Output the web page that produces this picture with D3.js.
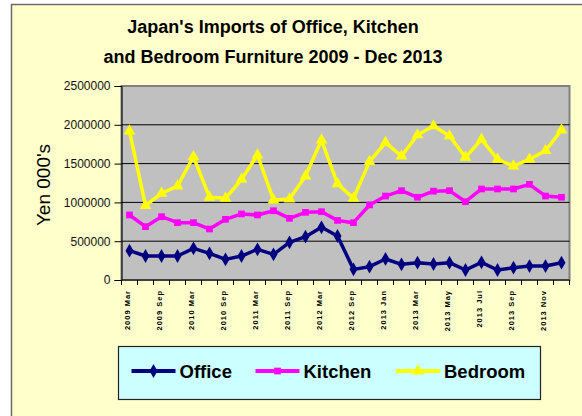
<!DOCTYPE html>
<html>
<head>
<meta charset="utf-8">
<script src="https://cdn.jsdelivr.net/npm/d3@7"></script>
<style>
	body { margin: 0; background: #fff; }
	svg { display: block; font-family: Arial, "Liberation Sans", sans-serif; }
</style>
</head>
<body>
<svg width="582" height="416"></svg>
<script>
// quarterly to end of 2012, then monthly for 2013
const categories = [
	'2009 Mar', '2009 Jun', '2009 Sep', '2009 Dec',
	'2010 Mar', '2010 Jun', '2010 Sep', '2010 Dec',
	'2011 Mar', '2011 Jun', '2011 Sep', '2011 Dec',
	'2012 Mar', '2012 Jun', '2012 Sep', '2012 Dec',
	'2013 Jan', '2013 Feb', '2013 Mar', '2013 Apr', '2013 May', '2013 Jun',
	'2013 Jul', '2013 Aug', '2013 Sep', '2013 Oct', '2013 Nov', '2013 Dec'
];
const office = [
	378000, 309000, 309000, 309000, 408000, 344000, 266000, 309000,
	395000, 331000, 485000, 558000, 679000, 567000, 137000, 172000,
	271000, 202000, 223000, 206000, 223000, 129000, 228000, 129000,
	159000, 180000, 180000, 223000
];
const kitchen = [
	838000, 687000, 816000, 739000, 739000, 657000, 782000, 851000,
	838000, 893000, 795000, 872000, 880000, 768000, 739000, 967000,
	1082000, 1151000, 1066000, 1145000, 1151000, 1009000, 1173000, 1173000,
	1173000, 1233000, 1082000, 1066000
];
const bedroom = [
	1920000, 960000, 1117000, 1211000, 1589000, 1066000, 1052000, 1297000,
	1611000, 1031000, 1044000, 1340000, 1804000, 1240000, 1052000, 1525000,
	1770000, 1598000, 1869000, 1985000, 1856000, 1581000, 1813000, 1555000,
	1469000, 1555000, 1666000, 1933000
];
const yTicks = [0, 500000, 1000000, 1500000, 2000000, 2500000];
const titleLines = ["Japan's Imports of Office, Kitchen", 'and Bedroom Furniture 2009 - Dec 2013'];

const series = [
	{ name: 'Office', values: office, color: '#000080', marker: d3.symbolDiamond, size: 55 },
	{ name: 'Kitchen', values: kitchen, color: '#FF00FF', marker: d3.symbolSquare, size: 45 },
	{ name: 'Bedroom', values: bedroom, color: '#FFFF00', marker: d3.symbolTriangle, size: 60 }
];

const svg = d3.select('svg');
const plot = { left: 121.5, right: 569.5, top: 86, bottom: 280 };

// chart background
svg.append('rect')
	.attr('x', 11.5).attr('y', 4.5)
	.attr('width', 640).attr('height', 460)
	.attr('fill', '#FFFFCC')
	.attr('stroke', '#6b6b6b')
	.attr('stroke-width', 1.5);

// title
svg.append('g').selectAll('text')
	.data(titleLines)
	.join('text')
	.attr('x', 273)
	.attr('y', (d, i) => 33 + i * 30)
	.attr('text-anchor', 'middle')
	.attr('font-size', 18)
	.attr('font-weight', 'bold')
	.attr('fill', '#000')
	.text(d => d);

let x = d3.scaleBand()
	.domain(categories)
	.range([plot.left, plot.right]);

let y = d3.scaleLinear()
	.domain([0, 2500000])
	.range([plot.bottom, plot.top]);

// plot area
svg.append('rect')
	.attr('x', plot.left).attr('y', plot.top)
	.attr('width', plot.right - plot.left)
	.attr('height', plot.bottom - plot.top)
	.attr('fill', '#C0C0C0')
	.attr('stroke', '#808080')
	.attr('stroke-width', 2);

// gridlines
svg.append('g').selectAll('line')
	.data(yTicks.filter(t => t > 0 && t < 2500000))
	.join('line')
	.attr('x1', plot.left).attr('x2', plot.right)
	.attr('y1', d => y(d)).attr('y2', d => y(d))
	.attr('stroke', '#000')
	.attr('stroke-width', 1);

// y axis
let yAxis = svg.append('g')
	.attr('transform', `translate(${plot.left},0)`)
	.call(d3.axisLeft(y).tickValues(yTicks).tickSize(7).tickPadding(4).tickFormat(d3.format('d')));
yAxis.select('.domain').attr('stroke', '#000');
yAxis.selectAll('text')
	.attr('font-size', 12)
	.attr('font-family', 'Arial, "Liberation Sans", sans-serif')
	.attr('fill', '#111');

svg.append('text')
	.attr('transform', 'translate(50,185) rotate(-90)')
	.attr('text-anchor', 'middle')
	.attr('font-size', 19)
	.attr('fill', '#000')
	.text("Yen 000's");

// x axis
svg.append('line')
	.attr('x1', plot.left).attr('x2', plot.right)
	.attr('y1', plot.bottom).attr('y2', plot.bottom)
	.attr('stroke', '#000');

let bounds = categories.map(c => x(c)).concat([plot.right]);
svg.append('g').selectAll('line')
	.data(bounds)
	.join('line')
	.attr('x1', d => d).attr('x2', d => d)
	.attr('y1', plot.bottom).attr('y2', plot.bottom + 5)
	.attr('stroke', '#000');

svg.append('g').selectAll('text')
	.data(categories.filter((c, i) => i % 2 === 0))
	.join('text')
	.attr('transform', d => `translate(${x(d) + x.bandwidth() / 2 + 0.5},290) rotate(-90)`)
	.attr('text-anchor', 'end')
	.attr('font-size', 7.5)
	.attr('font-weight', 'bold')
	.attr('letter-spacing', 1)
	.attr('fill', '#000')
	.text(d => d);

// lines + markers
let line = d3.line()
	.x((d, i) => x(categories[i]) + x.bandwidth() / 2)
	.y(d => y(d));

series.forEach(s => {
	svg.append('path')
		.datum(s.values)
		.attr('d', line)
		.attr('fill', 'none')
		.attr('stroke', s.color)
		.attr('stroke-width', 3.5)
		.attr('stroke-linejoin', 'round');

	svg.append('g').selectAll('path')
		.data(s.values)
		.join('path')
		.attr('transform', (d, i) => `translate(${x(categories[i]) + x.bandwidth() / 2},${y(d)})`)
		.attr('d', d3.symbol().type(s.marker).size(s.size))
		.attr('fill', s.color);
});

// legend
svg.append('rect')
	.attr('x', 118.5).attr('y', 346.5)
	.attr('width', 422).attr('height', 53)
	.attr('fill', '#CCFFFF')
	.attr('stroke', '#222')
	.attr('stroke-width', 1.2);

let legendX = [131.5, 255.5, 396];
let leg = svg.append('g').selectAll('g')
	.data(series)
	.join('g')
	.attr('transform', (d, i) => `translate(${legendX[i]},371)`);

leg.append('line')
	.attr('x1', 0).attr('x2', 44)
	.attr('stroke', d => d.color)
	.attr('stroke-width', 4);
leg.append('path')
	.attr('transform', 'translate(22,0)')
	.attr('d', d => d3.symbol().type(d.marker).size(d.size)())
	.attr('fill', d => d.color);
leg.append('text')
	.attr('x', 48)
	.attr('y', 6.5)
	.attr('font-size', 18.5)
	.attr('font-weight', 'bold')
	.attr('fill', '#000')
	.text(d => d.name);
</script>
</body>
</html>
